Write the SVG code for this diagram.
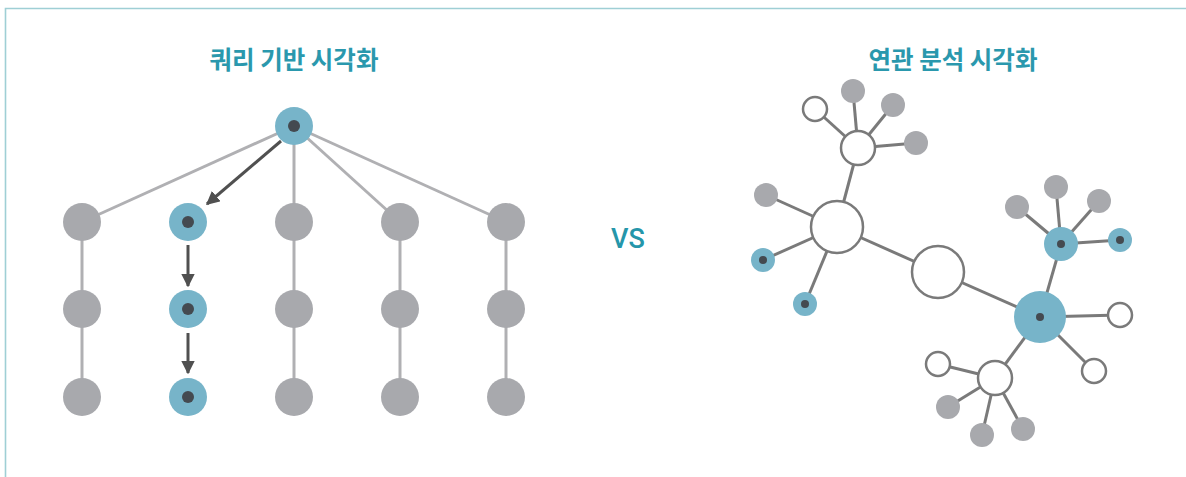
<svg xmlns="http://www.w3.org/2000/svg" width="1186" height="477" viewBox="0 0 1186 477">
<style>
.title{font-family:"Noto Sans CJK KR","Noto Sans",sans-serif;font-weight:bold;font-size:24.5px;fill:#2a98ad;text-anchor:middle}
.vs{font-family:"Roboto","Liberation Sans",sans-serif;font-weight:500;font-size:27px;fill:#2596aa;text-anchor:middle}
.g{fill:#a8a9ad}
.b{fill:#77b4c9}
.d{fill:#444a50}
.w{fill:#fff;stroke:#7a7a7a;stroke-width:2.5}
.le{stroke:#b0b0b3;stroke-width:3;fill:none}
.re{stroke:#7a7a7a;stroke-width:3;fill:none}
.ar{stroke:#505050;stroke-width:3;fill:none}
</style>
<defs>
<marker id="ah" viewBox="0 0 10 10" refX="9" refY="5" markerWidth="4.5" markerHeight="4.5" markerUnits="strokeWidth" orient="auto">
<path d="M0,0 L10,5 L0,10 z" fill="#505050"/>
</marker>
</defs>
<rect width="1186" height="477" fill="#fff"/>
<path d="M5.5,490 V8.5 H1190" fill="none" stroke="#9fcfd5" stroke-width="1.6"/>
<text class="title" x="294" y="69">쿼리 기반 시각화</text>
<text class="title" x="953" y="69">연관 분석 시각화</text>
<text class="vs" x="628" y="248">VS</text>
<g id="connectors">
<line class="le" x1="294" y1="126" x2="82" y2="222"/>
<line class="le" x1="294" y1="126" x2="294" y2="222"/>
<line class="le" x1="294" y1="126" x2="400" y2="222"/>
<line class="le" x1="294" y1="126" x2="506" y2="222"/>
<line class="le" x1="82" y1="222" x2="82" y2="397"/>
<line class="le" x1="294" y1="222" x2="294" y2="397"/>
<line class="le" x1="400" y1="222" x2="400" y2="397"/>
<line class="le" x1="506" y1="222" x2="506" y2="397"/>
<line class="ar" x1="281" y1="141" x2="207" y2="204" marker-end="url(#ah)"/>
<line class="ar" x1="188" y1="245" x2="188" y2="286" marker-end="url(#ah)"/>
<line class="ar" x1="188" y1="333" x2="188" y2="373" marker-end="url(#ah)"/>
<line class="re" x1="858" y1="148" x2="815" y2="109"/>
<line class="re" x1="858" y1="148" x2="853" y2="91"/>
<line class="re" x1="858" y1="148" x2="893" y2="105"/>
<line class="re" x1="858" y1="148" x2="916" y2="143"/>
<line class="re" x1="858" y1="148" x2="837" y2="227"/>
<line class="re" x1="837" y1="227" x2="766" y2="195"/>
<line class="re" x1="837" y1="227" x2="763" y2="260"/>
<line class="re" x1="837" y1="227" x2="805" y2="304"/>
<line class="re" x1="837" y1="227" x2="938" y2="272"/>
<line class="re" x1="938" y1="272" x2="1040" y2="317"/>
<line class="re" x1="1040" y1="317" x2="1061" y2="244"/>
<line class="re" x1="1061" y1="244" x2="1017" y2="207"/>
<line class="re" x1="1061" y1="244" x2="1056" y2="187"/>
<line class="re" x1="1061" y1="244" x2="1099" y2="201"/>
<line class="re" x1="1061" y1="244" x2="1120" y2="240"/>
<line class="re" x1="1040" y1="317" x2="1120" y2="315"/>
<line class="re" x1="1040" y1="317" x2="1094" y2="371"/>
<line class="re" x1="1040" y1="317" x2="995" y2="378"/>
<line class="re" x1="995" y1="378" x2="938" y2="364"/>
<line class="re" x1="995" y1="378" x2="948" y2="407"/>
<line class="re" x1="995" y1="378" x2="982" y2="435"/>
<line class="re" x1="995" y1="378" x2="1023" y2="429"/>
</g>
<g id="q-top"><circle class="b" cx="294" cy="126" r="19"/><circle class="d" cx="294" cy="126" r="6"/></g>
<g id="q-r1c1"><circle class="g" cx="82" cy="222" r="19"/></g>
<g id="q-r1c2"><circle class="b" cx="188" cy="222" r="19"/><circle class="d" cx="188" cy="222" r="6"/></g>
<g id="q-r1c3"><circle class="g" cx="294" cy="222" r="19"/></g>
<g id="q-r1c4"><circle class="g" cx="400" cy="222" r="19"/></g>
<g id="q-r1c5"><circle class="g" cx="506" cy="222" r="19"/></g>
<g id="q-r2c1"><circle class="g" cx="82" cy="309" r="19"/></g>
<g id="q-r2c2"><circle class="b" cx="188" cy="309" r="19"/><circle class="d" cx="188" cy="309" r="6"/></g>
<g id="q-r2c3"><circle class="g" cx="294" cy="309" r="19"/></g>
<g id="q-r2c4"><circle class="g" cx="400" cy="309" r="19"/></g>
<g id="q-r2c5"><circle class="g" cx="506" cy="309" r="19"/></g>
<g id="q-r3c1"><circle class="g" cx="82" cy="397" r="19"/></g>
<g id="q-r3c2"><circle class="b" cx="188" cy="397" r="19"/><circle class="d" cx="188" cy="397" r="6"/></g>
<g id="q-r3c3"><circle class="g" cx="294" cy="397" r="19"/></g>
<g id="q-r3c4"><circle class="g" cx="400" cy="397" r="19"/></g>
<g id="q-r3c5"><circle class="g" cx="506" cy="397" r="19"/></g>
<g id="a-hub1"><circle class="w" cx="858" cy="148" r="17"/></g>
<g id="a-w1"><circle class="w" cx="815" cy="109" r="12"/></g>
<g id="a-g1"><circle class="g" cx="853" cy="91" r="12"/></g>
<g id="a-g2"><circle class="g" cx="893" cy="105" r="12"/></g>
<g id="a-g3"><circle class="g" cx="916" cy="143" r="12"/></g>
<g id="a-hub2"><circle class="w" cx="837" cy="227" r="26"/></g>
<g id="a-g4"><circle class="g" cx="766" cy="195" r="12"/></g>
<g id="a-b1"><circle class="b" cx="763" cy="260" r="12"/><circle class="d" cx="763" cy="260" r="4"/></g>
<g id="a-b2"><circle class="b" cx="805" cy="304" r="12"/><circle class="d" cx="805" cy="304" r="4"/></g>
<g id="a-mid"><circle class="w" cx="938" cy="272" r="26"/></g>
<g id="a-hub3"><circle class="b" cx="1040" cy="317" r="26"/><circle class="d" cx="1040" cy="317" r="4"/></g>
<g id="a-hub4"><circle class="b" cx="1061" cy="244" r="17"/><circle class="d" cx="1061" cy="244" r="4"/></g>
<g id="a-g5"><circle class="g" cx="1017" cy="207" r="12"/></g>
<g id="a-g6"><circle class="g" cx="1056" cy="187" r="12"/></g>
<g id="a-g7"><circle class="g" cx="1099" cy="201" r="12"/></g>
<g id="a-b3"><circle class="b" cx="1120" cy="240" r="12"/><circle class="d" cx="1120" cy="240" r="4"/></g>
<g id="a-w2"><circle class="w" cx="1120" cy="315" r="12"/></g>
<g id="a-w3"><circle class="w" cx="1094" cy="371" r="12"/></g>
<g id="a-hub5"><circle class="w" cx="995" cy="378" r="17"/></g>
<g id="a-w4"><circle class="w" cx="938" cy="364" r="12"/></g>
<g id="a-g8"><circle class="g" cx="948" cy="407" r="12"/></g>
<g id="a-g9"><circle class="g" cx="982" cy="435" r="12"/></g>
<g id="a-g10"><circle class="g" cx="1023" cy="429" r="12"/></g>
</svg>
